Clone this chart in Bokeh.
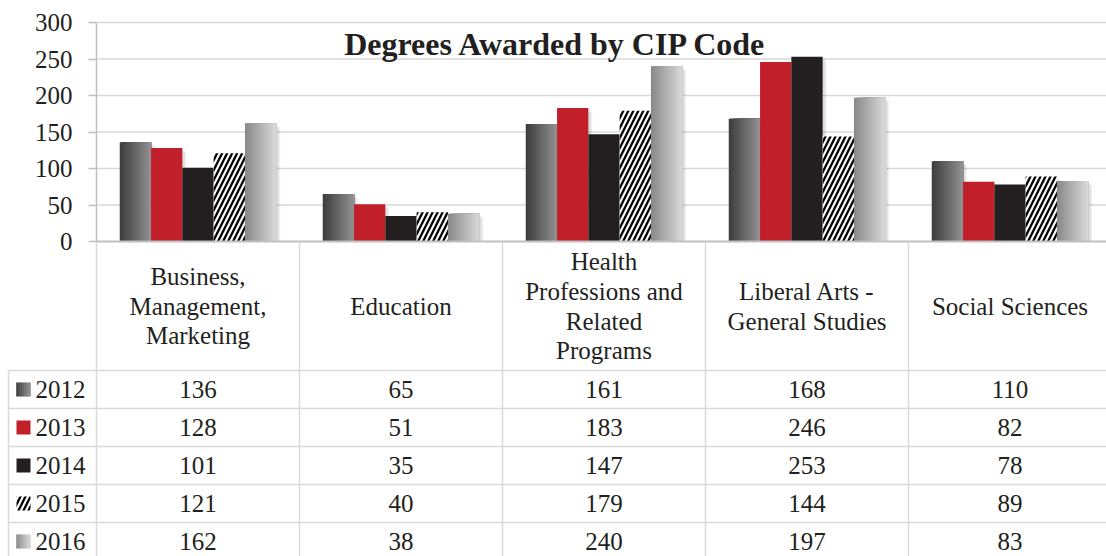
import numpy as np
from bokeh.plotting import figure
from bokeh.models import Range1d, LinearAxis, FixedTicker
from bokeh.core.properties import value
from bokeh.embed import file_html
from bokeh.resources import INLINE

# ---------------- data ----------------
categories = ["Business,\nManagement,\nMarketing", "Education",
              "Health\nProfessions and\nRelated\nPrograms",
              "Liberal Arts -\nGeneral Studies", "Social Sciences"]
years = ["2012", "2013", "2014", "2015", "2016"]
v2012 = [136, 65, 161, 168, 110]
v2013 = [128, 51, 183, 246, 82]
v2014 = [101, 35, 147, 253, 78]
v2015 = [121, 40, 179, 144, 89]
v2016 = [162, 38, 240, 197, 83]
y_ticks = [0, 50, 100, 150, 200, 250, 300]
title_text = "Degrees Awarded by CIP Code"

series = [v2012, v2013, v2014, v2015, v2016]

# ---------------- layout / style ----------------
W, H = 1106, 556
CAT_PX = 203.0            # width of one category column in px
LEFT_PX = 96.0            # px of the value axis
ZERO_PX = 241.0           # px (from top) of value 0
TOP_PX = 22.0             # px of top tick
ROW_TOP_PX = 370.0        # px of first table row top
ROW_PX = 38.0
FONT = "Liberation Serif"
TXT = "#231f20"
GRID = "#d9d9d9"
FS = "25px"

x_start = -LEFT_PX / CAT_PX
x_end = (W - LEFT_PX) / CAT_PX
ymax = y_ticks[-1]
scale = (ZERO_PX - TOP_PX) / ymax
y_end = ymax + TOP_PX / scale
y_start = -(H - ZERO_PX) / scale
t_end = ROW_TOP_PX / ROW_PX
t_start = -(H - ROW_TOP_PX) / ROW_PX
header_top = (ROW_TOP_PX - ZERO_PX - 0.5) / ROW_PX

def px(dx):
    return dx / CAT_PX

p = figure(width=W, height=H, output_backend="svg", toolbar_location=None,
           x_range=Range1d(x_start, x_end), y_range=Range1d(y_start, y_end),
           x_axis_type=None, y_axis_type=None, min_border=0,
           outline_line_color=None, background_fill_color="white",
           border_fill_color="white")
p.extra_y_ranges = {"tbl": Range1d(t_start, t_end)}

ncat = len(categories)
nser = len(series)

# gridlines
gy = [t for t in y_ticks if t > 0]
p.segment(x0=[0] * len(gy), x1=[ncat] * len(gy), y0=gy, y1=gy,
          line_color=GRID, line_width=1.3)

# y axis
ax = LinearAxis(fixed_location=0, bounds=(0, ymax),
                ticker=FixedTicker(ticks=y_ticks))
ax.axis_line_color = "#bfbfbf"
ax.axis_line_width = 1.5
ax.major_tick_line_color = "#bfbfbf"
ax.major_tick_line_width = 1.5
ax.major_tick_out = 8
ax.major_tick_in = 0
ax.minor_tick_line_color = None
ax.major_label_standoff = 16
ax.major_label_text_font = FONT
ax.major_label_text_font_size = FS
ax.major_label_text_color = TXT
p.add_layout(ax, "left")

# bars
BAR_W = 31.3 / CAT_PX
fills = ["grad1", "#c1202b", "#231f20", "hatch", "grad2"]
grads = {"grad1": ((0x3c, 0x3c, 0x3c), (0x92, 0x92, 0x92)),
         "grad2": ((0x88, 0x88, 0x88), (0xda, 0xda, 0xda))}
HATCH = dict(hatch_pattern="/", hatch_color="black", hatch_weight=2.3, hatch_scale=10)

def hexc(c):
    return "#%02x%02x%02x" % tuple(int(round(v)) for v in c)

def grad_colors(key, n):
    c0, c1 = grads[key]
    return [hexc([c0[i] + (c1[i] - c0[i]) * (k + 0.5) / n for i in range(3)]) for k in range(n)]

xs_all = []
for j, vals in enumerate(series):
    xs = [i + 0.5 + (j - (nser - 1) / 2) * BAR_W for i in range(ncat)]
    xs_all.append(xs)
    # soft shadow
    for off, a in ((4, 0.05), (2.5, 0.08)):
        p.vbar(x=[x + px(off) for x in xs], top=[v - off / scale for v in vals], bottom=0,
               width=BAR_W, fill_color="black", fill_alpha=a, line_color=None)

for j, vals in enumerate(series):
    xs = xs_all[j]
    f = fills[j]
    if f in grads:
        N = 20
        cols = grad_colors(f, N)
        ql, qr, qt, qc = [], [], [], []
        for x, v in zip(xs, vals):
            left, right = x - BAR_W / 2, x + BAR_W / 2
            for k in range(N):
                ql.append(left + k * BAR_W / N)
                qr.append(right)
                qt.append(v)
                qc.append(cols[k])
        p.quad(left=ql, right=qr, top=qt, bottom=0, fill_color=qc, line_color=None)
    elif f == "hatch":
        p.vbar(x=xs, top=vals, bottom=0, width=BAR_W, fill_color="white", line_color=None,
               **HATCH)
    else:
        p.vbar(x=xs, top=vals, bottom=0, width=BAR_W, fill_color=f, line_color=None)

# category axis line
p.segment(x0=[0], x1=[ncat], y0=[0], y1=[0], line_color="#bfbfbf", line_width=2)

# table lines
nrows = len(years)
hl = list(range(0, -(nrows + 1), -1))
p.segment(x0=[x_start + px(8)] * len(hl), x1=[ncat] * len(hl), y0=hl, y1=hl,
          line_color=GRID, line_width=1.5, y_range_name="tbl")
vx = list(range(ncat + 1))
p.segment(x0=vx, x1=vx, y0=[header_top] * len(vx), y1=[-nrows - 1] * len(vx),
          line_color=GRID, line_width=1.5, y_range_name="tbl")
p.segment(x0=[x_start + px(8)], x1=[x_start + px(8)], y0=[0], y1=[-nrows - 1],
          line_color=GRID, line_width=1.5, y_range_name="tbl")

# category labels
p.text(x=[i + 0.5 for i in range(ncat)], y=[header_top / 2] * ncat, text=categories,
       text_font=value(FONT), text_font_size=FS, text_color=TXT,
       text_align="center", text_baseline="middle", text_line_height=1.1,
       y_range_name="tbl")

# table values
tx, ty, tt = [], [], []
for j, vals in enumerate(series):
    for i, v in enumerate(vals):
        tx.append(i + 0.5)
        ty.append(-(j + 0.5))
        tt.append(str(v))
p.text(x=tx, y=ty, text=tt, text_font=value(FONT), text_font_size=FS, text_color=TXT,
       text_align="center", text_baseline="middle", y_range_name="tbl")

# row labels + legend keys
key_cx = x_start + px(23)
p.text(x=[x_start + px(35)] * nrows, y=[-(j + 0.5) for j in range(nrows)], text=years,
       text_font=value(FONT), text_font_size=FS, text_color=TXT,
       text_align="left", text_baseline="middle", y_range_name="tbl")
KEY = 14
for j in range(nser):
    f = fills[j]
    yk = -(j + 0.5)
    if f in grads:
        N = 7
        cols = grad_colors(f, N)
        p.rect(x=[key_cx + px(-KEY / 2 + (k + 0.5) * KEY / N) for k in range(N)], y=[yk] * N,
               width=KEY / N + 0.6, height=KEY, width_units="screen", height_units="screen",
               fill_color=cols, line_color=None, y_range_name="tbl")
    elif f == "hatch":
        p.rect(x=[key_cx], y=[yk], width=KEY, height=KEY, width_units="screen",
               height_units="screen", fill_color="white", line_color=None,
               y_range_name="tbl", **HATCH)
    else:
        p.rect(x=[key_cx], y=[yk], width=KEY, height=KEY, width_units="screen",
               height_units="screen", fill_color=f, line_color=None, y_range_name="tbl")

# title
p.text(x=[(x_start + ncat) / 2], y=[(ZERO_PX - 43) / scale], text=[title_text],
       text_font=value(FONT), text_font_size="32px", text_font_style="bold",
       text_color=TXT, text_align="center", text_baseline="middle")

open("out.html", "w").write(file_html(p, INLINE))
